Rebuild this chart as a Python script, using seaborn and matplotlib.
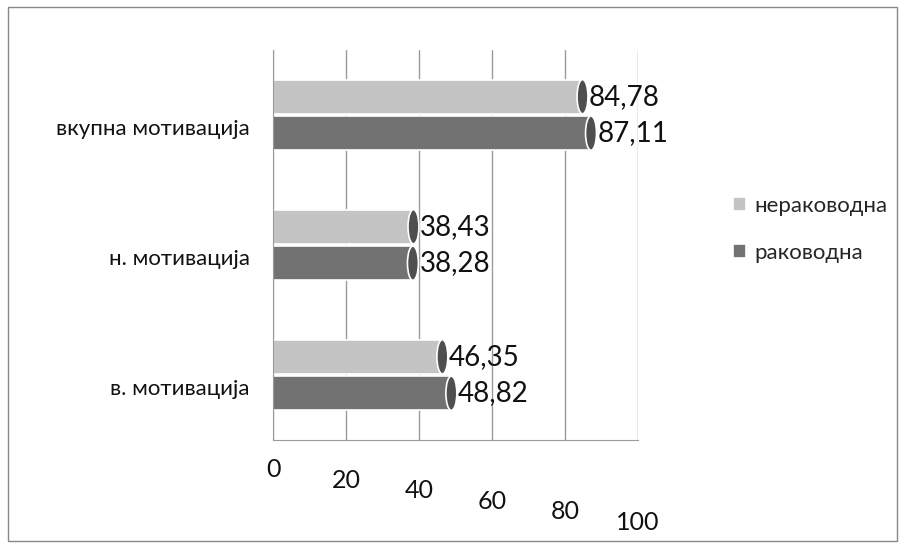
import pandas as pd
import seaborn as sns
import matplotlib.pyplot as plt
from matplotlib.patches import Ellipse, Rectangle
from matplotlib.transforms import ScaledTranslation

# podatoci
kategorii = ['вкупна мотивација', 'н. мотивација', 'в. мотивација']
nerakovodna = [84.78, 38.43, 46.35]
rakovodna = [87.11, 38.28, 48.82]
grupi = ['нераководна', 'раководна']
x_ticks = [0, 20, 40, 60, 80, 100]

df = pd.DataFrame({
    'kategorija': kategorii * 2,
    'vrednost': nerakovodna + rakovodna,
    'grupa': [grupi[0]] * 3 + [grupi[1]] * 3,
})

sns.set_style('white')
plt.rcParams['font.family'] = ['Lato', 'DejaVu Sans']

fig = plt.figure(figsize=(9.05, 5.48), dpi=100)
ax = fig.add_axes([0.302, 0.197, 0.403, 0.712])

boi = {grupi[0]: '#c4c4c4', grupi[1]: '#727272'}
sns.barplot(data=df, y='kategorija', x='vrednost', hue='grupa', hue_order=grupi,
            order=kategorii, palette=boi, orient='h', width=0.56, gap=0.06,
            edgecolor='white', linewidth=1.2, legend=True, ax=ax)

# kapaci na krajot od cilindrite
for bar in ax.patches:
    w = bar.get_width()
    if w <= 0:
        continue
    y = bar.get_y() + bar.get_height() / 2
    ax.add_patch(Ellipse((w, y), 3.0, bar.get_height(), facecolor='#4f4f4f',
                         edgecolor='white', linewidth=1.2, zorder=3))
    ax.text(w + 1.8, y, f'{w:.2f}'.replace('.', ','), va='center', ha='left',
            fontsize=20, color='#111111')

ax.set_xlim(0, 100)
ax.set_xticks(x_ticks)
ax.set_xticklabels([str(t) for t in x_ticks], fontsize=18, color='#111111')
ax.tick_params(axis='y', labelsize=16, length=0, pad=17, labelcolor='#111111')
ax.tick_params(axis='x', pad=13, length=0)
ax.set_xlabel('')
ax.set_ylabel('')
ax.grid(axis='x', color='#9a9a9a', linewidth=1)
ax.set_axisbelow(True)
for s in ['top', 'right']:
    ax.spines[s].set_visible(False)
for s in ['left', 'bottom']:
    ax.spines[s].set_color('#9a9a9a')

# natpisite malku podolu, kako vo originalot
pomest = ScaledTranslation(0, -12 / 100, fig.dpi_scale_trans)
for lbl in ax.get_yticklabels():
    lbl.set_transform(lbl.get_transform() + pomest)
# x natpisite skalesto nadolu (perspektiva)
for i, lbl in enumerate(ax.get_xticklabels()):
    lbl.set_transform(lbl.get_transform() +
                      ScaledTranslation(0, -i * 10.5 / 100, fig.dpi_scale_trans))

leg = ax.legend(loc='center left', bbox_to_anchor=(1.205, 0.54), frameon=False,
                fontsize=16, handlelength=0.6, handleheight=0.6,
                handletextpad=0.35, labelspacing=1.2)

fig.patches.append(Rectangle((0.009, 0.013), 0.982, 0.974, transform=fig.transFigure,
                             fill=False, edgecolor='#888888', linewidth=1))

fig.savefig('out.png', dpi=100)
